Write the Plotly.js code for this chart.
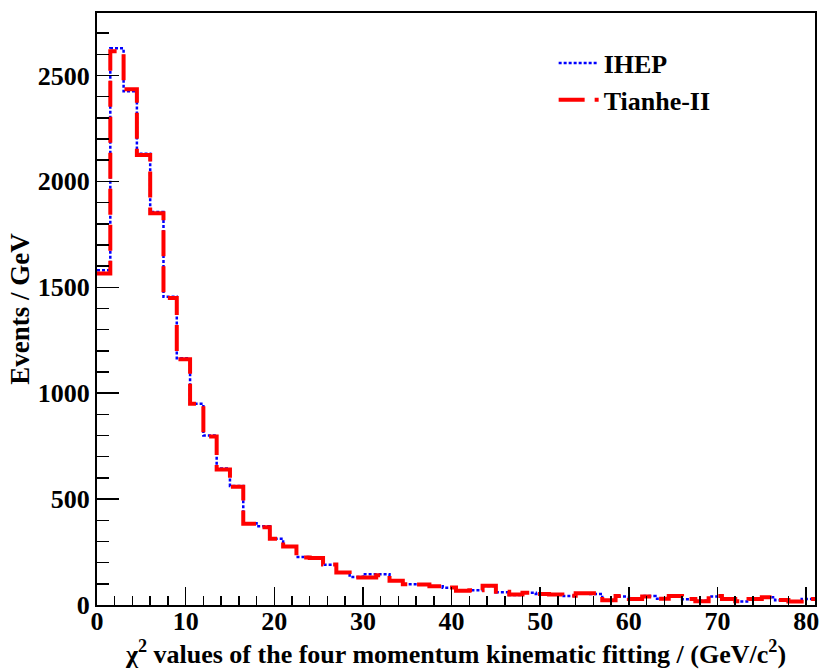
<!DOCTYPE html>
<html>
<head>
<meta charset="utf-8">
<script src="https://cdn.plot.ly/plotly-3.0.1.min.js"></script>
<style>html,body{margin:0;padding:0;background:#fff;}#chart{width:823px;height:670px;}</style>
</head>
<body>
<div id="chart"></div>
<script>
// Histogram: 54 bins of width 1.5 from 0 to 81
const binWidth = 1.5;
const binStart = 0;
const ihep = [1580, 2628, 2425, 2130, 1855, 1455, 1165, 950, 800, 645,
              562, 386, 372, 313, 276, 227, 222, 190, 153, 132,
              145, 145, 114, 98, 98, 88, 82, 67, 70, 90,
              60, 47, 58, 52, 48, 42, 55, 52, 20, 40,
              30, 42, 30, 40, 27, 20, 40, 27, 17, 28,
              36, 23, 17, 28];
const tianhe = [1565, 2615, 2435, 2125, 1850, 1450, 1160, 950, 795, 640,
                558, 384, 367, 313, 276, 224, 222, 191, 153, 130,
                130, 140, 114, 98, 97, 88, 83, 67, 70, 91,
                63, 50, 58, 52, 50, 44, 55, 55, 22, 42,
                28, 40, 30, 42, 28, 18, 42, 28, 18, 28,
                36, 24, 17, 28];
const seriesNames = ["IHEP", "Tianhe-II"];
const xTickVals = [0, 10, 20, 30, 40, 50, 60, 70, 80];
const yTickVals = [0, 500, 1000, 1500, 2000, 2500];

function stepXY(vals) {
  const xs = [], ys = [];
  for (let i = 0; i < vals.length; i++) { xs.push(binStart + i * binWidth); ys.push(vals[i]); }
  xs.push(binStart + vals.length * binWidth); ys.push(vals[vals.length - 1]);
  return {xs, ys};
}
const a = stepXY(ihep), b = stepXY(tianhe);

const FAM = 'Liberation Serif, Times New Roman, serif';
function f(size) { return {family: FAM, size: size, color: '#000', weight: 'bold'}; }
const traces = [
  {x: a.xs, y: a.ys, type: 'scatter', mode: 'lines', name: seriesNames[0],
   line: {shape: 'hv', color: '#0000ff', width: 2.5, dash: '3px,2px'}},
  {x: b.xs, y: b.ys, type: 'scatter', mode: 'lines', name: seriesNames[1],
   line: {shape: 'hv', color: '#ff0000', width: 4, dash: '26px,10px'}}
];
const layout = {
  width: 823, height: 670,
  margin: {l: 97, r: 8, t: 13, b: 65},
  paper_bgcolor: '#fff', plot_bgcolor: '#fff',
  showlegend: true,
  font: f(26),
  legend: {x: 0.636, y: 0.955, xanchor: 'left', yanchor: 'top', bgcolor: 'rgba(0,0,0,0)',
           font: f(26), tracegroupgap: 0, itemwidth: 40},
  xaxis: {range: [0, 81], showgrid: false, zeroline: false,
          showline: true, linecolor: '#000', linewidth: 2, mirror: true,
          ticks: 'inside', ticklen: 18, tickwidth: 1.5, tickcolor: '#000',
          tickvals: xTickVals, ticktext: xTickVals.map(String),
          ticklabelstandoff: -8,
          minor: {dtick: 2, tick0: 0, ticks: 'inside', ticklen: 9, tickwidth: 1.5, tickcolor: '#000', showgrid: false},
          tickfont: f(26),
          title: {text: 'χ<sup>2</sup> values of the four momentum kinematic fitting / (GeV/c<sup>2</sup>)',
                  font: f(26), standoff: 0}},
  yaxis: {range: [0, 2795], showgrid: false, zeroline: false,
          showline: true, linecolor: '#000', linewidth: 2, mirror: true,
          ticks: 'inside', ticklen: 22, tickwidth: 1.5, tickcolor: '#000',
          tickvals: yTickVals, ticktext: yTickVals.map(String),
          minor: {dtick: 100, tick0: 0, ticks: 'inside', ticklen: 12, tickwidth: 1.5, tickcolor: '#000', showgrid: false},
          tickfont: f(26),
          title: {text: 'Events / GeV', font: f(27), standoff: 0}}
};
Plotly.newPlot('chart', traces, layout, {displayModeBar: false, staticPlot: true});
</script>
</body>
</html>
